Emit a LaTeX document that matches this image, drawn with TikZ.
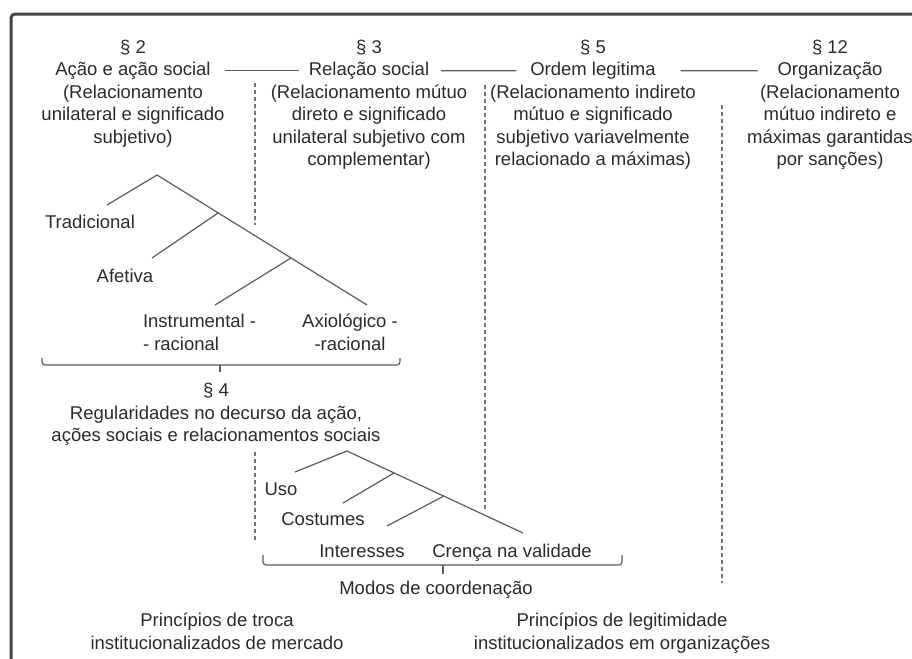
\documentclass[tikz,border=0pt]{standalone}
\usepackage{fontspec}
\setmainfont{Liberation Sans}
\usetikzlibrary{positioning}

\definecolor{inkgray}{HTML}{2B2B2B}
\definecolor{linegray}{HTML}{5C5C5C}
\definecolor{framegray}{HTML}{454545}

\begin{document}
\begin{tikzpicture}[x=0.5pt,y=-0.5pt,
	every node/.style={inner sep=0pt,outer sep=0pt,text=inkgray,font=\fontsize{9.25pt}{11.25pt}\selectfont},
	head node/.style={anchor=base,align=center},
	leaf node/.style={anchor=base},
	tree line/.style={draw=linegray,line width=0.6pt},
	link line/.style={draw=linegray,line width=0.6pt},
	sep line/.style={draw=linegray!85,line width=0.6pt,dash pattern=on 2pt off 1.5pt},
	brace line/.style={draw=linegray,line width=0.6pt,rounded corners=1.5pt}]

	\useasboundingbox (0,0) rectangle (912,659);
	\draw[framegray,line width=1.5pt,rounded corners=2pt] (11,680) -- (11,14) -- (930,14);

	% the four paragraphs (base of a block = its last line)
	\node[head node] (s2) at (133,53) {§ 2};
	\node[head node] (t2) at (133,75.5) {Ação e ação social};
	\node[head node] (d2) at (133,143) {(Relacionamento\\unilateral e significado\\subjetivo)};
	\node[head node] (s3) at (369,53) {§ 3};
	\node[head node] (t3) at (369,75.5) {Relação social};
	\node[head node] (d3) at (369,165.5) {(Relacionamento mútuo\\direto e significado\\unilateral subjetivo com\\complementar)};
	\node[head node] (s5) at (593,53) {§ 5};
	\node[head node] (t5) at (593,75.5) {Ordem legitima};
	\node[head node] (d5) at (593,165.5) {(Relacionamento indireto\\mútuo e significado\\subjetivo variavelmente\\relacionado a máximas)};
	\node[head node] (s12) at (830,53) {§ 12};
	\node[head node] (t12) at (830,75.5) {Organização};
	\node[head node] (d12) at (830,165.5) {(Relacionamento\\mútuo indireto e\\máximas garantidas\\por sanções)};

	\path[link line]
		(t2.east) edge [shorten <=7pt, shorten >=5pt] (t3.west)
		(t3.east) edge [shorten <=6pt, shorten >=7pt] (t5.west)
		(t5.east) edge [shorten <=12.5pt, shorten >=10pt] (t12.west);

	% column separators
	\draw[sep line] (255,83) -- (255,225);
	\draw[sep line] (485,85) -- (485,512);
	\draw[sep line] (722,105) -- (722,583);
	\draw[sep line] (255,452) -- (255,542);

	% types of action
	\coordinate (a1) at (157,175);
	\coordinate (a1l) at (107,205);
	\coordinate (a1r) at (367,305);
	\coordinate (j1) at (218,213);
	\coordinate (j1l) at (152,258);
	\coordinate (j2) at (291,258);
	\coordinate (j2l) at (215,305);
	\draw[tree line] (a1l) -- (a1) -- (a1r);
	\draw[tree line] (j1) -- (j1l);
	\draw[tree line] (j2) -- (j2l);

	\node[leaf node] (trad) at (90,228.5) {Tradicional};
	\node[leaf node] (afet) at (125,282.5) {Afetiva};
	\node[anchor=base west,align=left] (instr) at (143,350) {Instrumental -\\- racional};
	\node[head node] (axio) at (350,350) {Axiológico -\\-racional};

	\coordinate (b1l) at (42,358);
	\coordinate (b1r) at (400,358);
	\coordinate (b1m) at (220,365);
	\coordinate (b1t) at (220,372);
	\draw[brace line] (b1l) |- (b1m) -| (b1r);
	\draw[brace line] (b1m) -- (b1t);

	\node[head node] (s4) at (216,396.5) {§ 4};
	\node[head node] (reg) at (216,441.5) {Regularidades no decurso da ação,\\ações sociais e relacionamentos sociais};

	% modes of coordination
	\coordinate (a2) at (347,451);
	\coordinate (a2l) at (295,472);
	\coordinate (a2r) at (523,533);
	\coordinate (k1) at (394,473);
	\coordinate (k1l) at (343,503);
	\coordinate (k2) at (444,496);
	\coordinate (k2l) at (387,526);
	\draw[tree line] (a2l) -- (a2) -- (a2r);
	\draw[tree line] (k1) -- (k1l);
	\draw[tree line] (k2) -- (k2l);

	\node[leaf node] (uso) at (281,495.5) {Uso};
	\node[leaf node] (cost) at (323,525.5) {Costumes};
	\node[leaf node] (inter) at (362,557.5) {Interesses};
	\node[leaf node] (cren) at (512,557.5) {Crença na validade};

	\coordinate (b2l) at (263,555);
	\coordinate (b2r) at (622,555);
	\coordinate (b2m) at (443,565);
	\coordinate (b2t) at (443,574);
	\draw[brace line] (b2l) |- (b2m) -| (b2r);
	\draw[brace line] (b2m) -- (b2t);

	\node[leaf node] (modos) at (436,594.5) {Modos de coordenação};

	\node[head node] (merc) at (217,649) {Princípios de troca\\institucionalizados de mercado};
	\node[head node] (orgs) at (622,649) {Princípios de legitimidade\\institucionalizados em organizações};

\end{tikzpicture}
\end{document}
